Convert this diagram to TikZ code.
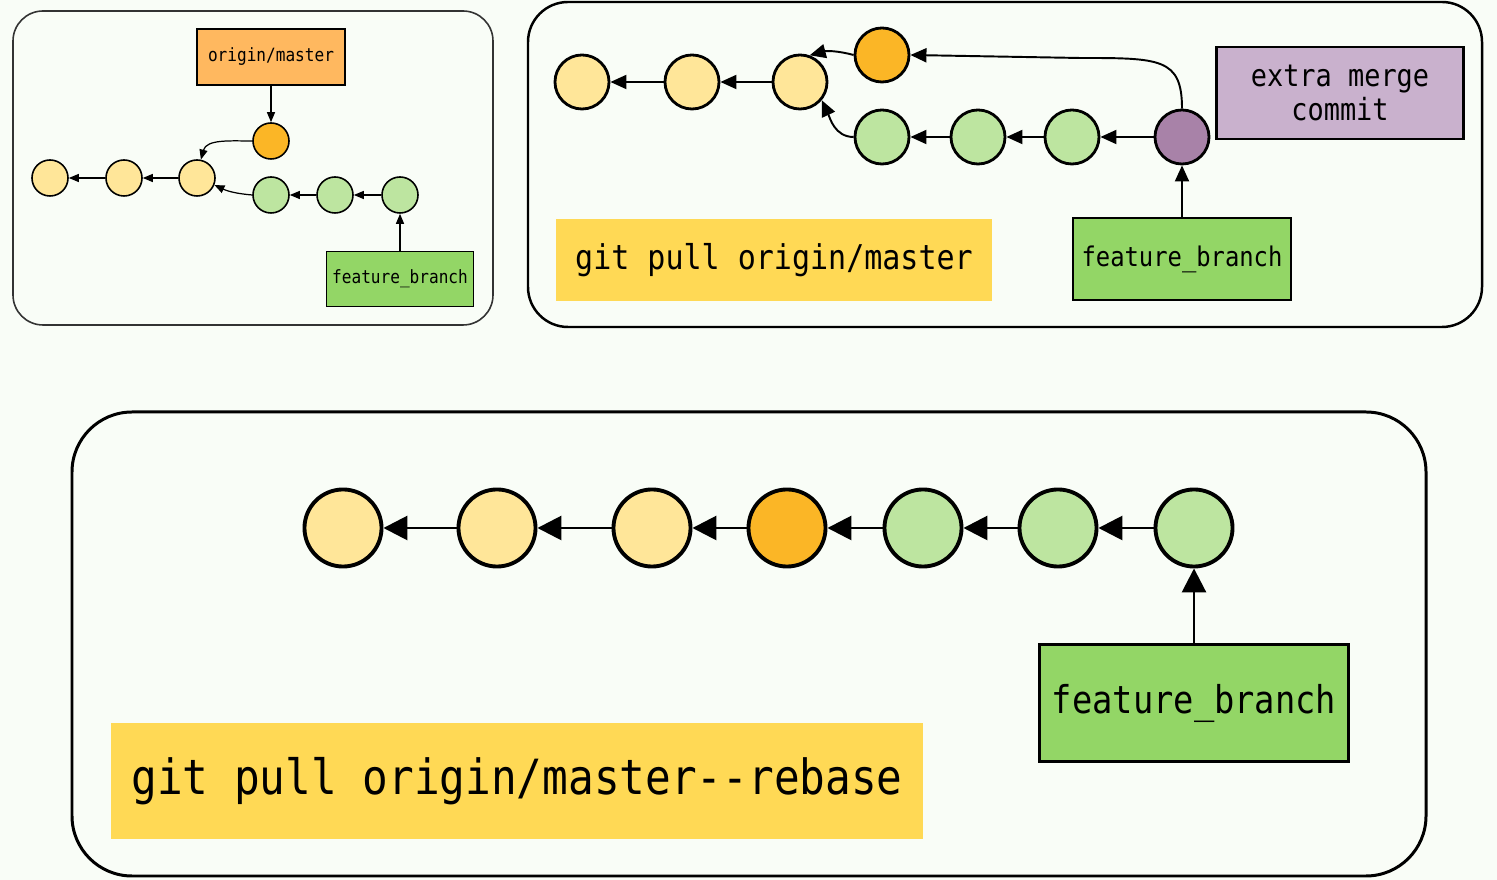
\documentclass[tikz,border=0pt]{standalone}
\usepackage{fontspec}
\usepackage{tikz}
\usetikzlibrary{arrows.meta}
\newfontfamily\codefont[FakeStretch=0.88]{DejaVu Sans Mono}

\definecolor{bgmint}{HTML}{F9FDF7}
\definecolor{oldyellow}{HTML}{FFE699}
\definecolor{remoteorange}{HTML}{FBB626}
\definecolor{featgreen}{HTML}{BDE5A0}
\definecolor{branchgreen}{HTML}{93D666}
\definecolor{originorange}{HTML}{FFB85F}
\definecolor{mergepurple}{HTML}{A882A8}
\definecolor{notepurple}{HTML}{C9B1CD}
\definecolor{cmdyellow}{HTML}{FFD955}

\tikzset{
  commit/.style={circle, draw=black, inner sep=0pt},
  label/.style={rectangle, draw=black, inner sep=0pt, align=center, font=\codefont},
  cmdbox/.style={rectangle, fill=cmdyellow, inner sep=0pt, font=\codefont},
  frame/.style={draw=black, rounded corners=#1},
}

\begin{document}
\begin{tikzpicture}[x=0.01cm, y=-0.01cm]

    \useasboundingbox (0,0) rectangle (1497,880);
    \fill[bgmint] (0,0) rectangle (1497,880);

    % before the pull
    \draw[frame=0.3cm, draw=black!80, line width=0.45pt] (13,11) rectangle (493,325);

    \node[label, fill=originorange, line width=0.4pt, minimum width=1.48cm, minimum height=0.56cm,
          font=\codefont\fontsize{5.2}{6}\selectfont] (om1) at (271,57) {origin/master};

    \node[commit, fill=remoteorange, line width=0.45pt, minimum size=0.36cm] (o1) at (271,141) {};

    \node[commit, fill=oldyellow, line width=0.45pt, minimum size=0.36cm] (y11) at (50,178) {};
    \node[commit, fill=oldyellow, line width=0.45pt, minimum size=0.36cm] (y12) at (124,178) {};
    \node[commit, fill=oldyellow, line width=0.45pt, minimum size=0.36cm] (y13) at (197,178) {};

    \node[commit, fill=featgreen, line width=0.45pt, minimum size=0.36cm] (g11) at (271,195) {};
    \node[commit, fill=featgreen, line width=0.45pt, minimum size=0.36cm] (g12) at (335,195) {};
    \node[commit, fill=featgreen, line width=0.45pt, minimum size=0.36cm] (g13) at (400,195) {};

    \node[label, fill=branchgreen, line width=0.4pt, minimum width=1.47cm, minimum height=0.55cm,
          font=\codefont\fontsize{5.2}{6}\selectfont] (fb1) at (400,279) {feature\_branch};

    \begin{scope}[line width=0.35pt, -{Triangle[length=0.1cm, width=0.08cm]}]
      \draw (om1) -- (o1);
      \draw (y12) -- (y11);
      \draw (y13) -- (y12);
      \draw (o1.west) to[out=180, in=75] (y13.78);
      \draw (g11.west) to[out=175, in=-25] (y13.-22);
      \draw (g12) -- (g11);
      \draw (g13) -- (g12);
      \draw (fb1) -- (g13);
    \end{scope}

    % plain pull
    \draw[frame=0.4cm, line width=0.7pt] (528,2) rectangle (1482,327);

    \node[commit, fill=oldyellow, line width=0.8pt, minimum size=0.54cm] (y21) at (582,82) {};
    \node[commit, fill=oldyellow, line width=0.8pt, minimum size=0.54cm] (y22) at (692,82) {};
    \node[commit, fill=oldyellow, line width=0.8pt, minimum size=0.54cm] (y23) at (800,82) {};

    \node[commit, fill=remoteorange, line width=0.8pt, minimum size=0.54cm] (o2) at (882,55) {};

    \node[commit, fill=featgreen, line width=0.8pt, minimum size=0.54cm] (g21) at (882,137) {};
    \node[commit, fill=featgreen, line width=0.8pt, minimum size=0.54cm] (g22) at (978,137) {};
    \node[commit, fill=featgreen, line width=0.8pt, minimum size=0.54cm] (g23) at (1072,137) {};

    \node[commit, fill=mergepurple, line width=0.8pt, minimum size=0.54cm] (m2) at (1182,137) {};

    \node[label, fill=notepurple, line width=0.7pt, minimum width=2.47cm, minimum height=0.92cm,
          font=\codefont\fontsize{8.7}{7.6}\selectfont] (note2) at (1340,93) {extra merge\\commit};

    \node[cmdbox, minimum width=4.36cm, minimum height=0.81cm,
          font=\codefont\fontsize{9.7}{11}\selectfont] (cmd2) at (774,260) {git pull origin/master};

    \node[label, fill=branchgreen, line width=0.7pt, minimum width=2.18cm, minimum height=0.82cm,
          font=\codefont\fontsize{7.7}{9}\selectfont] (fb2) at (1182,259) {feature\_branch};

    \begin{scope}[line width=0.55pt, -{Triangle[length=0.16cm, width=0.14cm]}]
      \draw (y22) -- (y21);
      \draw (y23) -- (y22);
      \draw (o2.west) to[out=165, in=15] (y23.70);
      \draw (g21.west) to[out=180, in=-65] (y23.-40);
      \draw (g22) -- (g21);
      \draw (g23) -- (g22);
      \draw (m2) -- (g23);
      \draw (m2.north) .. controls (1182,58) and (1160,58) .. (1080,58) -- (o2.east);
      \draw (fb2) -- (m2);
    \end{scope}

    % pull with rebase
    \draw[frame=0.6cm, line width=0.85pt] (72,412) rectangle (1426,876);

    \node[commit, fill=oldyellow, line width=1.1pt, minimum size=0.77cm] (y31) at (343,528) {};
    \node[commit, fill=oldyellow, line width=1.1pt, minimum size=0.77cm] (y32) at (497,528) {};
    \node[commit, fill=oldyellow, line width=1.1pt, minimum size=0.77cm] (y33) at (652,528) {};
    \node[commit, fill=remoteorange, line width=1.1pt, minimum size=0.77cm] (o3) at (787,528) {};
    \node[commit, fill=featgreen, line width=1.1pt, minimum size=0.77cm] (g31) at (923,528) {};
    \node[commit, fill=featgreen, line width=1.1pt, minimum size=0.77cm] (g32) at (1058,528) {};
    \node[commit, fill=featgreen, line width=1.1pt, minimum size=0.77cm] (g33) at (1194,528) {};

    \node[label, fill=branchgreen, line width=0.85pt, minimum width=3.09cm, minimum height=1.17cm,
          font=\codefont\fontsize{10.9}{13}\selectfont] (fb3) at (1194,703) {feature\_branch};

    \node[cmdbox, minimum width=8.12cm, minimum height=1.16cm,
          font=\codefont\fontsize{13.8}{16}\selectfont] (cmd3) at (517,781) {git pull origin/master-{}-rebase};

    \begin{scope}[line width=0.8pt, -{Triangle[length=0.24cm, width=0.24cm]}]
      \draw (y32) -- (y31);
      \draw (y33) -- (y32);
      \draw (o3) -- (y33);
      \draw (g31) -- (o3);
      \draw (g32) -- (g31);
      \draw (g33) -- (g32);
      \draw (fb3) -- (g33);
    \end{scope}

\end{tikzpicture}
\end{document}
